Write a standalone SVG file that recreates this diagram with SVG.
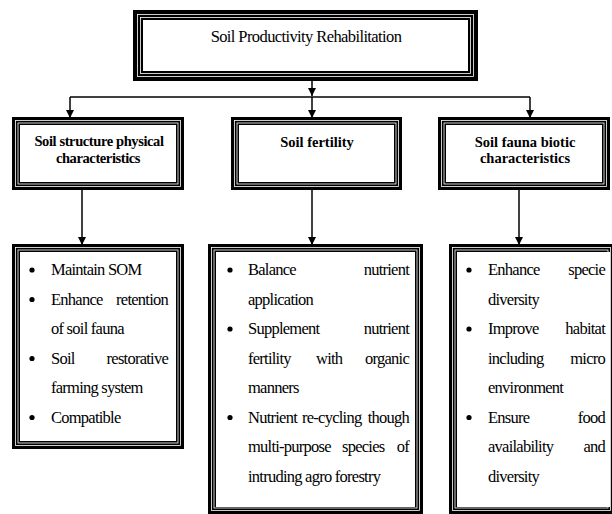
<svg xmlns="http://www.w3.org/2000/svg" width="612" height="514" viewBox="0 0 612 514" font-family="'Liberation Serif', 'Times New Roman', Tinos, 'DejaVu Serif', serif">
<style>
.o{fill:#000}
.w{fill:none;stroke:#fff;stroke-width:0.8}
.in{fill:#fff}
.t{fill:#000}
.title{font-size:16.5px;letter-spacing:-0.6px}
.h{font-size:14.5px;font-weight:bold;text-anchor:middle}
.b{font-size:16.5px;letter-spacing:-0.75px}
.e{text-anchor:end}
.c{fill:none;stroke:#000;stroke-width:1.5}
</style>
<defs>
<marker id="ah" markerUnits="userSpaceOnUse" markerWidth="8" markerHeight="8" refX="8" refY="4" orient="auto">
<path d="M0,0 L8,4 L0,8 z" fill="#000"/>
</marker>
</defs>
<rect width="612" height="514" fill="#fff"/>

<g id="connectors">
<path class="c" d="M312,81 V96" marker-end="url(#ah)"/>
<path class="c" d="M70,97 H530"/>
<path class="c" d="M312,97 V118" marker-end="url(#ah)"/>
<path class="c" d="M70,97 V118" marker-end="url(#ah)"/>
<path class="c" d="M530,97 V118" marker-end="url(#ah)"/>
<path class="c" d="M82,190 V245" marker-end="url(#ah)"/>
<path class="c" d="M312,190 V245" marker-end="url(#ah)"/>
<path class="c" d="M519,190 V245" marker-end="url(#ah)"/>
</g>

<g id="title">
<rect class="o" x="133" y="10" width="345" height="71"/>
<rect class="w" x="137.5" y="14.5" width="336" height="62"/>
<rect class="w" x="140.5" y="17.5" width="330" height="56"/>
<rect class="in" x="143" y="20" width="325" height="51"/>
<text class="t title" x="306" y="42" text-anchor="middle">Soil Productivity Rehabilitation</text>
</g>

<g id="h-structure">
<rect class="o" x="12" y="117" width="172" height="73"/>
<rect class="w" x="15.5" y="120.5" width="165" height="66"/>
<rect class="w" x="18" y="123" width="160" height="61"/>
<rect class="in" x="20" y="125" width="156" height="57"/>
<text class="t h" x="99" y="146" letter-spacing="-0.4">Soil structure physical</text>
<text class="t h" x="98" y="163" letter-spacing="-0.4">characteristics</text>
</g>

<g id="h-fertility">
<rect class="o" x="231" y="117" width="171" height="73"/>
<rect class="w" x="234.5" y="120.5" width="164" height="66"/>
<rect class="w" x="237" y="123" width="159" height="61"/>
<rect class="in" x="239" y="125" width="155" height="57"/>
<text class="t h" x="317" y="147">Soil fertility</text>
</g>

<g id="h-fauna">
<rect class="o" x="438" y="117" width="172" height="73"/>
<rect class="w" x="441.5" y="120.5" width="165" height="66"/>
<rect class="w" x="444" y="123" width="160" height="61"/>
<rect class="in" x="446" y="125" width="156" height="57"/>
<text class="t h" x="525" y="147">Soil fauna biotic</text>
<text class="t h" x="525" y="163">characteristics</text>
</g>

<g id="b-structure">
<rect class="o" x="12" y="244" width="172" height="205"/>
<rect class="w" x="15.5" y="247.5" width="165" height="198"/>
<rect class="w" x="18" y="250" width="160" height="193"/>
<rect class="in" x="20" y="252" width="156" height="189"/>
<circle cx="32" cy="270" r="2.6"/>
<circle cx="32" cy="299.5" r="2.6"/>
<circle cx="32" cy="358.5" r="2.6"/>
<circle cx="32" cy="417.5" r="2.6"/>
<text class="t b" x="51" y="275">Maintain SOM</text>
<text class="t b" x="51" y="304.5">Enhance</text>
<text class="t b e" x="168" y="304.5">retention</text>
<text class="t b" x="51" y="334">of soil fauna</text>
<text class="t b" x="51" y="363.5">Soil</text>
<text class="t b e" x="168" y="363.5">restorative</text>
<text class="t b" x="51" y="393">farming system</text>
<text class="t b" x="51" y="422.5">Compatible</text>
</g>

<g id="b-fertility">
<rect class="o" x="208" y="244" width="215" height="270"/>
<rect class="w" x="211.5" y="247.5" width="208" height="263"/>
<rect class="w" x="214" y="250" width="203" height="258"/>
<rect class="in" x="216" y="252" width="199" height="255"/>
<circle cx="230" cy="270" r="2.6"/>
<circle cx="230" cy="329" r="2.6"/>
<circle cx="230" cy="417.5" r="2.6"/>
<text class="t b" x="248" y="275">Balance</text>
<text class="t b e" x="409" y="275">nutrient</text>
<text class="t b" x="248" y="304.5">application</text>
<text class="t b" x="248" y="334">Supplement</text>
<text class="t b e" x="409" y="334">nutrient</text>
<text class="t b" x="248" y="363.5">fertility</text>
<text class="t b" x="316" y="363.5">with</text>
<text class="t b e" x="409" y="363.5">organic</text>
<text class="t b" x="248" y="393">manners</text>
<text class="t b" x="248" y="422.5">Nutrient</text>
<text class="t b" x="302" y="422.5">re-cycling</text>
<text class="t b e" x="409" y="422.5">though</text>
<text class="t b" x="248" y="452">multi-purpose</text>
<text class="t b" x="342" y="452">species</text>
<text class="t b e" x="409" y="452">of</text>
<text class="t b" x="248" y="481.5">intruding agro forestry</text>
</g>

<g id="b-fauna">
<rect class="o" x="449" y="244" width="165" height="270"/>
<rect class="w" x="452.5" y="247.5" width="158" height="263"/>
<rect class="w" x="455" y="250" width="153" height="258"/>
<rect class="in" x="457" y="252" width="153" height="255"/>
<circle cx="469" cy="270" r="2.6"/>
<circle cx="469" cy="329" r="2.6"/>
<circle cx="469" cy="417.5" r="2.6"/>
<text class="t b" x="488" y="275">Enhance</text>
<text class="t b e" x="605" y="275">specie</text>
<text class="t b" x="488" y="304.5">diversity</text>
<text class="t b" x="488" y="334">Improve</text>
<text class="t b e" x="605" y="334">habitat</text>
<text class="t b" x="488" y="363.5">including</text>
<text class="t b e" x="605" y="363.5">micro</text>
<text class="t b" x="488" y="393">environment</text>
<text class="t b" x="488" y="422.5">Ensure</text>
<text class="t b e" x="605" y="422.5">food</text>
<text class="t b" x="488" y="452">availability</text>
<text class="t b e" x="605" y="452">and</text>
<text class="t b" x="488" y="481.5">diversity</text>
</g>
</svg>
